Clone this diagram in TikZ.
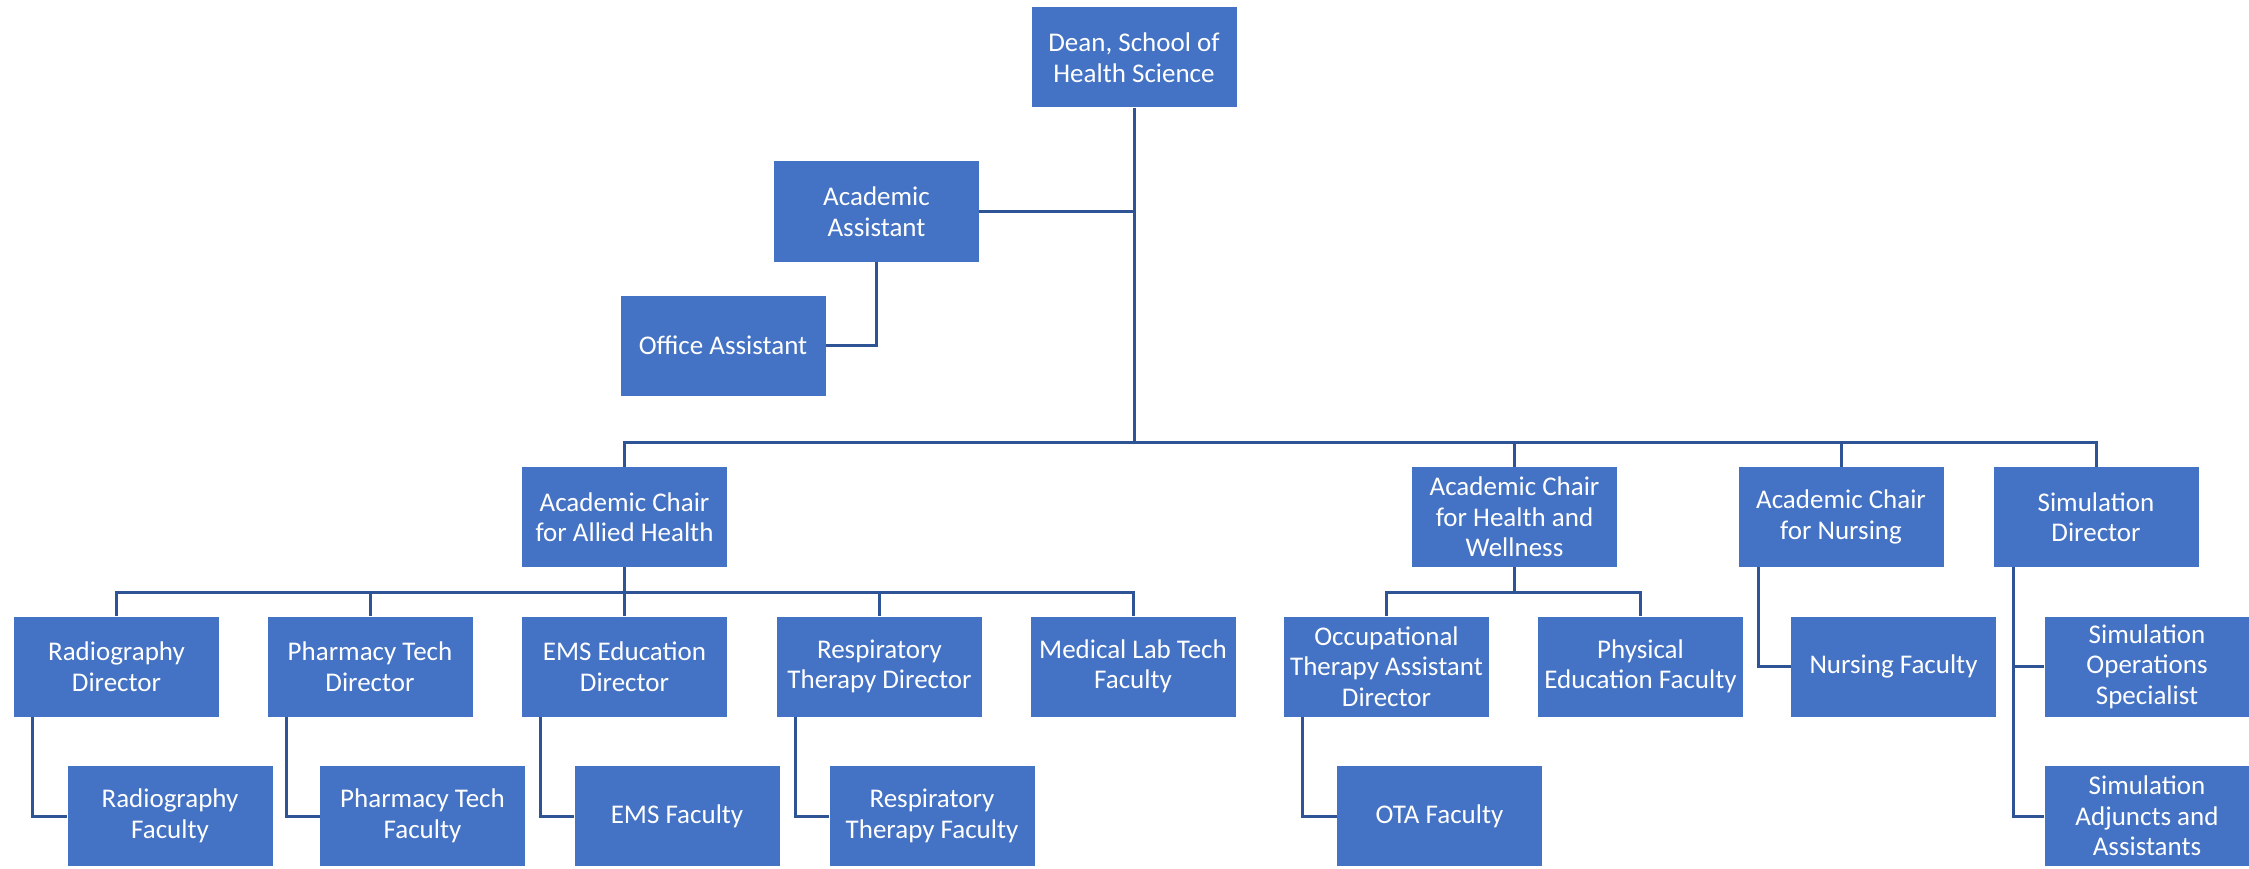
\documentclass[tikz,border=0pt]{standalone}
\usepackage{fontspec}
\setmainfont{Carlito}
\definecolor{boxblue}{HTML}{4472C4}
\definecolor{linecol}{HTML}{2F5496}
\begin{document}
\begin{tikzpicture}[x=1pt,y=-1pt,
  box/.style={rectangle, fill=boxblue, draw=none, minimum width=205pt, minimum height=100pt,
    inner sep=0pt, text=white, align=center, font=\fontsize{27}{30.5}\selectfont},
  conn/.style={draw=linecol, line width=3pt}]
\useasboundingbox (0,0) rectangle (2249,869);
% top
\node[box] (Dean) at (1134,57.5) {Dean, School of\\Health Science};
\node[box] (AA) at (876.5,211.5) {Academic\\Assistant};
\node[box] (OA) at (723,345.5) {Office Assistant};
% chairs
\node[box] (Allied) at (624.5,517) {Academic Chair\\for Allied Health};
\node[box] (HW) at (1514.5,517) {Academic Chair\\for Health and\\Wellness};
\node[box] (Nursing) at (1841,517) {Academic Chair\\for Nursing};
\node[box] (SimDir) at (2096,517) {Simulation\\Director};
% directors
\node[box] (RadDir) at (116.5,666.5) {Radiography\\Director};
\node[box] (PharmDir) at (370,666.5) {Pharmacy Tech\\Director};
\node[box] (EMSDir) at (624.5,666.5) {EMS Education\\Director};
\node[box] (RespDir) at (879.5,666.5) {Respiratory\\Therapy Director};
\node[box] (MLT) at (1133,666.5) {Medical Lab Tech\\Faculty};
\node[box] (OTADir) at (1386.5,666.5) {Occupational\\Therapy Assistant\\Director};
\node[box] (PE) at (1640.5,666.5) {Physical\\Education Faculty};
\node[box] (NursFac) at (1893.5,666.5) {Nursing Faculty};
\node[box] (SimOps) at (2147,666.5) {Simulation\\Operations\\Specialist};
% faculty
\node[box] (RadFac) at (170,816) {Radiography\\Faculty};
\node[box] (PharmFac) at (422.5,816) {Pharmacy Tech\\Faculty};
\node[box] (EMSFac) at (677,816) {EMS Faculty};
\node[box] (RespFac) at (932,816) {Respiratory\\Therapy Faculty};
\node[box] (OTAFac) at (1439.5,816) {OTA Faculty};
\node[box] (SimAdj) at (2147,816) {Simulation\\Adjuncts and\\Assistants};
% connectors
\coordinate (bus) at (1134,442);
\coordinate (ab) at (624.5,592);
\coordinate (hwb) at (1514.5,592);
\draw[conn] (Dean.south) -- (bus);
\draw[conn] (AA.east) -- (AA.east -| Dean.south);
\draw[conn] (AA.south) |- (OA.east);
\draw[conn] (Allied.north) |- (bus) -| (SimDir.north);
\draw[conn] (HW.north) -- (HW.north |- bus);
\draw[conn] (Nursing.north) -- (Nursing.north |- bus);
\draw[conn] (Allied.south) -- (ab);
\draw[conn] (RadDir.north) |- (ab) -| (MLT.north);
\draw[conn] (PharmDir.north) -- (PharmDir.north |- ab);
\draw[conn] (EMSDir.north) -- (ab);
\draw[conn] (RespDir.north) -- (RespDir.north |- ab);
\draw[conn] (HW.south) -- (hwb);
\draw[conn] (OTADir.north) |- (hwb) -| (PE.north);
\draw[conn] ([xshift=19pt]RadDir.south west) |- (RadFac.west);
\draw[conn] ([xshift=19pt]PharmDir.south west) |- (PharmFac.west);
\draw[conn] ([xshift=19pt]EMSDir.south west) |- (EMSFac.west);
\draw[conn] ([xshift=19pt]RespDir.south west) |- (RespFac.west);
\draw[conn] ([xshift=19pt]OTADir.south west) |- (OTAFac.west);
\draw[conn] ([xshift=20pt]Nursing.south west) |- (NursFac.west);
\draw[conn] ([xshift=20pt]SimDir.south west) |- (SimOps.west);
\draw[conn] ([xshift=20pt]SimDir.south west) |- (SimAdj.west);
\end{tikzpicture}
\end{document}
